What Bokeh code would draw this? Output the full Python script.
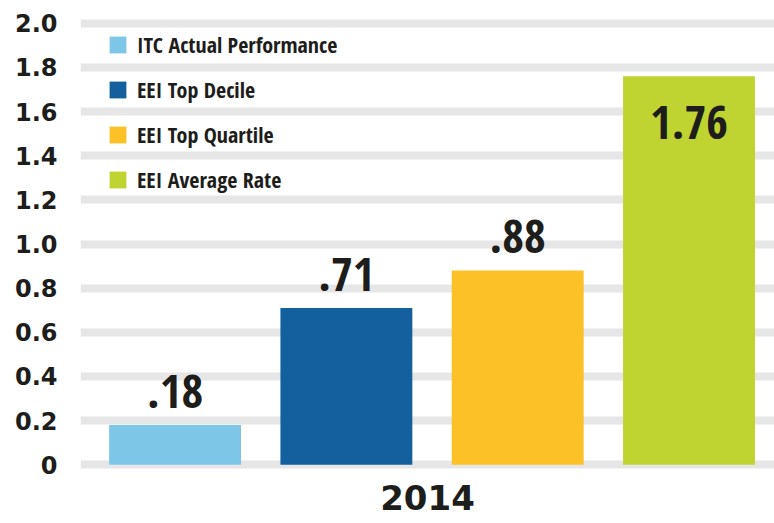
from bokeh.plotting import figure
from bokeh.models import ColumnDataSource, Range1d, FixedTicker, LabelSet, NumeralTickFormatter
from bokeh.core.properties import value
from bokeh.embed import file_html
from bokeh.resources import INLINE

# ---- data ----
categories = ["ITC Actual Performance", "EEI Top Decile", "EEI Top Quartile", "EEI Average Rate"]
rates = [0.18, 0.71, 0.88, 1.76]
colors = ["#7ec6e8", "#14609e", "#fcc126", "#bfd431"]
year_label = "2014"
tick_values = [0, 0.2, 0.4, 0.6, 0.8, 1.0, 1.2, 1.4, 1.6, 1.8, 2.0]
tick_labels = ["0", "0.2", "0.4", "0.6", "0.8", "1.0", "1.2", "1.4", "1.6", "1.8", "2.0"]

y_max = tick_values[-1]
positions = list(range(len(categories)))
value_text = [("%.2f" % v).lstrip("0") for v in rates]
label_offset = [-63 if v > 0.85 * y_max else 17 for v in rates]

source = ColumnDataSource(dict(
    x=positions, top=rates, color=colors, category=categories,
    label=value_text, yoff=label_offset,
))

TEXT = "#1d1d1b"
COND = "Open Sans Condensed"

p = figure(
    width=774, height=523,
    x_range=Range1d(-0.552, 3.499),
    y_range=Range1d(-0.04, 2.04),
    output_backend="svg", toolbar_location=None, tools="",
    min_border_left=80, min_border_right=0, min_border_top=14, min_border_bottom=50,
)
p.outline_line_color = None

r = p.vbar(x="x", top="top", bottom=0, width=0.77, color="color", line_color=None,
           source=source, legend_field="category")

p.xgrid.grid_line_color = None
p.ygrid.ticker = FixedTicker(ticks=tick_values)
p.ygrid.grid_line_color = "#e6e6e6"
p.ygrid.grid_line_width = 8

p.yaxis.ticker = FixedTicker(ticks=tick_values)
p.yaxis.formatter = NumeralTickFormatter(format="0.0")
p.yaxis.major_label_overrides = dict(zip(tick_values, tick_labels))
p.yaxis.axis_line_color = None
p.yaxis.major_tick_line_color = None
p.yaxis.minor_tick_line_color = None
p.yaxis.major_tick_out = 0
p.yaxis.major_tick_in = 0
p.yaxis.major_label_standoff = 23
p.yaxis.major_label_text_font = "DejaVu Sans"
p.yaxis.major_label_text_font_style = "bold"
p.yaxis.major_label_text_font_size = "24px"
p.yaxis.major_label_text_color = TEXT

p.xaxis.ticker = FixedTicker(ticks=[])
p.xaxis.axis_line_color = None
p.xaxis.major_tick_line_color = None
p.xaxis.minor_tick_line_color = None
p.xaxis.major_tick_out = 0
p.xaxis.major_label_standoff = 0
p.xaxis.axis_label = year_label
p.xaxis.axis_label_standoff = 11
p.xaxis.axis_label_text_font = "DejaVu Sans"
p.xaxis.axis_label_text_font_style = "bold"
p.xaxis.axis_label_text_font_size = "34px"
p.xaxis.axis_label_text_color = TEXT

labels = LabelSet(x="x", y="top", text="label", source=source, y_offset="yoff",
                  text_align="center", text_baseline="alphabetic",
                  text_font=value(COND), text_font_style="bold",
                  text_font_size="47px", text_color=TEXT)
p.add_layout(labels)

leg = p.legend[0]
leg.location = (27, 279)
leg.orientation = "vertical"
leg.background_fill_alpha = 0
leg.border_line_color = None
leg.padding = 0
leg.margin = 0
leg.spacing = 15
leg.glyph_width = 21
leg.glyph_height = 21
leg.label_height = 21
leg.label_standoff = 9
leg.label_text_font = COND
leg.label_text_font_style = "bold"
leg.label_text_font_size = "22px"
leg.label_text_color = TEXT
leg.label_text_baseline = "middle"

open("out.html", "w").write(file_html(p, INLINE))
